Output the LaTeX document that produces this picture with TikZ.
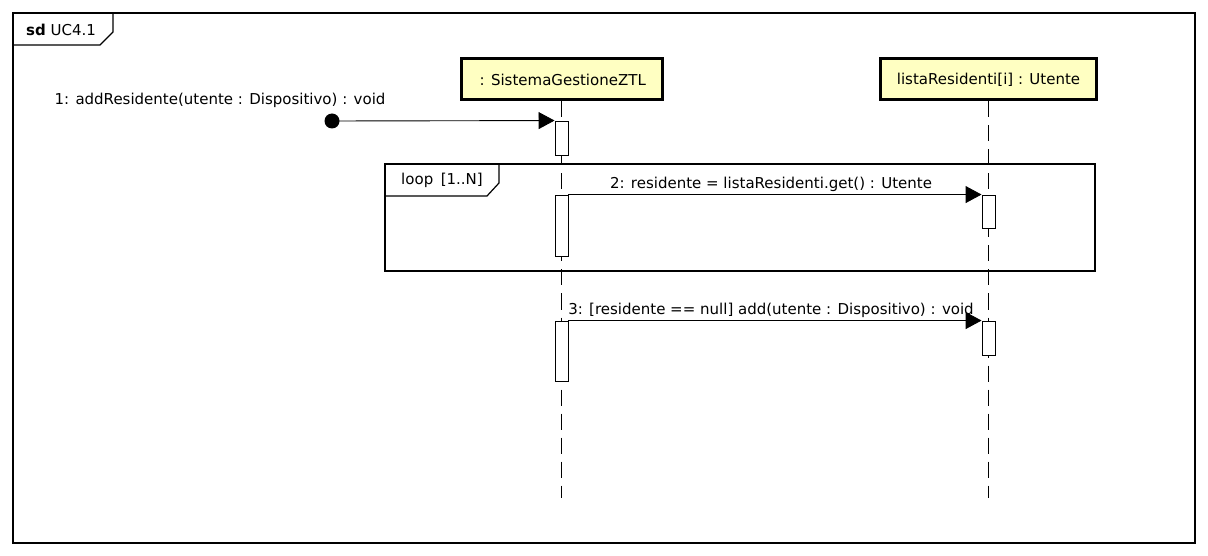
\documentclass[tikz,border=0pt]{standalone}
\usepackage{fontspec}
\setmainfont{DejaVu Sans}
\usetikzlibrary{arrows.meta}
\definecolor{headfill}{RGB}{255,255,194}
\begin{document}
\begin{tikzpicture}[x=1pt,y=-1pt,
  every node/.style={font=\fontsize{15}{18}\selectfont},
  head/.style={draw, line width=3pt, fill=headfill, minimum height=41pt, inner sep=0pt},
  act/.style={draw, fill=white, line width=0.9pt, minimum width=13pt, inner sep=0pt},
  life/.style={line width=1.2pt, dash pattern=on 16pt off 8pt},
  msg/.style={line width=0.9pt, -{Triangle[length=16pt,width=17pt]}},
  frameline/.style={line width=1.2pt},
  lbl/.style={inner sep=0pt}]
\useasboundingbox (0,0) rectangle (1208,556);
% outer frame
\draw[frameline] (13,13) rectangle (1195,543);
\draw[frameline] (13,45) -- (100,45) -- (113,32) -- (113,13);
\node[lbl] (sdlbl) at (61,30) {\textbf{sd} UC4.1};
% lifeline heads
\node[head, minimum width=201pt] (h1) at (561.5,79.5) {\,: SistemaGestioneZTL};
\node[head, minimum width=216pt] (h2) at (988.5,79.5) {listaResidenti[i] : Utente};
\coordinate (e1) at (561.5,498);
\coordinate (e2) at (988.5,498);
\draw[life] (h1.south) -- (e1);
\draw[life] (h2.south) -- (e2);
% loop frame
\draw[frameline] (385,164) rectangle (1095,271);
\draw[frameline] (385,196) -- (487,196) -- (499,183) -- (499,164);
\node[lbl] (looplbl) at (442,180) {loop\enspace [1..N]};
% activations
\node[act, minimum height=34pt] (a1) at (561.5,138) {};
\node[act, minimum height=61pt] (a2) at (561.5,225.5) {};
\node[act, minimum height=33pt] (a3) at (988.5,211.5) {};
\node[act, minimum height=60pt] (a4) at (561.5,351) {};
\node[act, minimum height=34pt] (a5) at (988.5,338) {};
% found message
\node[circle, fill=black, minimum size=15pt, inner sep=0pt] (start) at (332,121) {};
\draw[msg] (start.center) -- (a1.north west);
\node[lbl] (m1) at (220,100) {1: addResidente(utente : Dispositivo) : void};
% message 2
\draw[msg] (a2.north east) -- (a3.north west);
\node[lbl] (m2) at (771,184) {2: residente = listaResidenti.get() : Utente};
% message 3
\draw[msg] (a4.north east) -- (a5.north west);
\node[lbl] (m3) at (771,310) {3: [residente == null] add(utente : Dispositivo) : void};
\end{tikzpicture}
\end{document}
